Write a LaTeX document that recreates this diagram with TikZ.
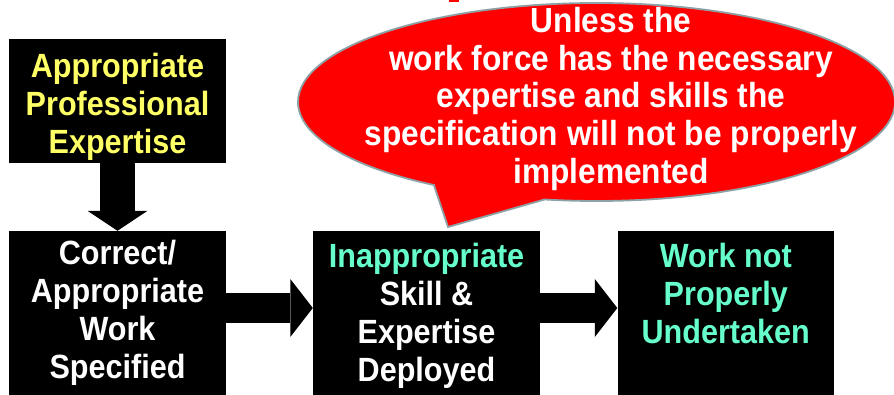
\documentclass[tikz,border=0pt]{standalone}
\usepackage{fontspec}
\newfontfamily\diagfont[FakeStretch=0.91]{Liberation Sans}
\usetikzlibrary{positioning,shapes.callouts,arrows.meta}
\definecolor{tipyellow}{HTML}{FFFF66}
\definecolor{tipaqua}{HTML}{66FFCC}
\definecolor{rimgrey}{HTML}{8CA2A6}
\definecolor{bubblered}{HTML}{FF0000}
\begin{document}
\begin{tikzpicture}[x=1pt,y=-1pt,
box/.style={fill=black,inner sep=0pt,minimum height=164pt},
boxtext/.style={inner sep=0pt,align=center,text=white,
font=\diagfont\bfseries\fontsize{33.6}{38}\selectfont},
downarrow/.style={line width=35pt,
-{Triangle[length=20pt 0 0,width=60pt 0 0,line width=0pt 0 0]}},
rightarrow/.style={line width=30pt,
-{Triangle[length=22.5pt 0 0,width=58pt 0 0,line width=0pt 0 0]}}]
\useasboundingbox (0,0) rectangle (894,395);
% what is left of a heading cut off above
\fill[bubblered] (449,0) rectangle (459,2);
\node[ellipse callout,fill=bubblered,draw=rimgrey,line width=1.8pt,
minimum width=597pt,minimum height=198pt,
callout absolute pointer={(448,227)},callout pointer arc=23]
(bubble) at (596.5,102) {};
\node[inner sep=0pt,align=center,text=white,anchor=north,
font=\diagfont\bfseries\fontsize{34.8}{37.75}\selectfont]
(msg) at (611,7) {Unless the\\work force has the necessary\\expertise and skills the\\specification will not be properly\\implemented};
\node[box,minimum width=217pt,minimum height=124pt]
(boxA) at (117.5,101) {};
\node[box,minimum width=217pt]
(boxB) at (117.5,313) {};
\node[box,minimum width=227pt]
(boxC) at (426.5,313) {};
\node[box,minimum width=216.5pt]
(boxD) at (725.75,313) {};
\node[boxtext,text=tipyellow,below=14pt of boxA.north]
(tA) {Appropriate\\Professional\\Expertise};
\node[boxtext,below=9.6pt of boxB.north]
(tB) {Correct/\\Appropriate\\Work\\Specified};
\node[boxtext,below=12pt of boxC.north]
(tC) {\textcolor{tipaqua}{Inappropriate}\\Skill \&\\Expertise\\Deployed};
\node[boxtext,text=tipaqua,below=12pt of boxD.north]
(tD) {Work not\\Properly\\Undertaken};
\draw[downarrow](boxA) -- (boxB);
\draw[rightarrow]([yshift=5pt]boxB.east) -- ([yshift=5pt]boxC.west);
\draw[rightarrow]([yshift=5pt]boxC.east) -- ([yshift=5pt]boxD.west);
\end{tikzpicture}
\end{document}
